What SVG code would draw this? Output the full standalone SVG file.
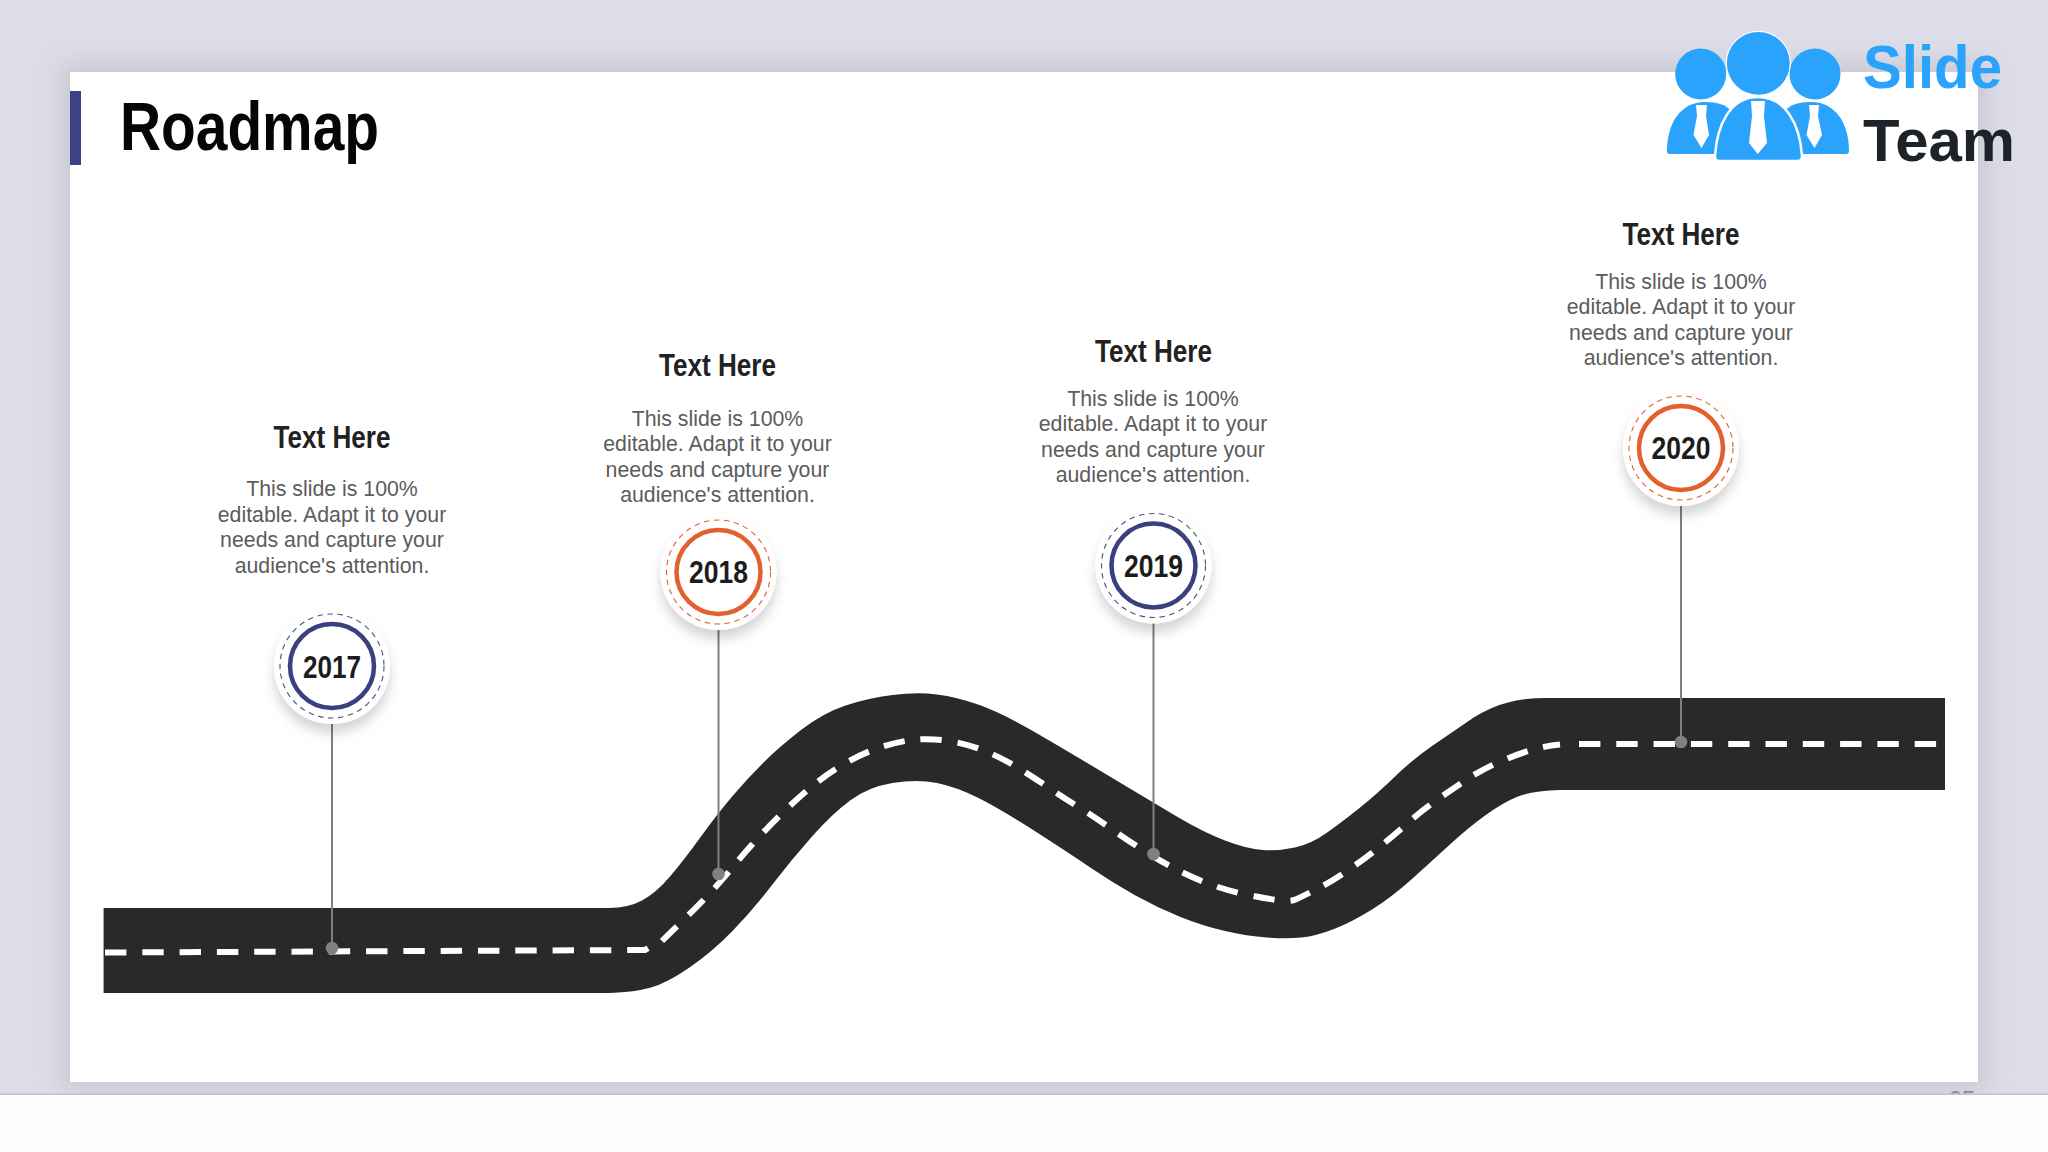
<svg xmlns="http://www.w3.org/2000/svg" width="2048" height="1152" viewBox="0 0 2048 1152">
<style>
.hd{font-family:"Liberation Sans",Arial,sans-serif;font-weight:700;fill:#222222;font-size:31px;text-anchor:middle}
.bd{font-family:"Liberation Sans",Arial,sans-serif;fill:#5c5c5c;font-size:21.3px;text-anchor:middle}
.yr{font-family:"Liberation Sans",Arial,sans-serif;font-weight:700;fill:#1c1c1c;font-size:31px;text-anchor:middle}
.plate{fill:#fff;filter:url(#sh)}
.navy .ring{stroke:#39407f}.navy .dash{stroke:#4a5080}
.orange .ring{stroke:#e2602e}.orange .dash{stroke:#e2602e}
.ring{fill:#fff;stroke-width:4.5}
.dash{fill:none;stroke-width:1.1;stroke-dasharray:5.5 4.5}
.pin{stroke:#7f7f7f;stroke-width:2;fill:none}
.dot{fill:#808080}
.lane{fill:none;stroke:#fff;stroke-width:6;stroke-dasharray:21.4 15.9}
.logo{fill:#29a3fb}
.tie{fill:#fff}
</style>
<defs>
<filter id="sh" x="-40%" y="-40%" width="180%" height="190%"><feDropShadow dx="0" dy="9" stdDeviation="6" flood-color="#000" flood-opacity="0.17"/></filter>
<filter id="ss" x="-5%" y="-8%" width="110%" height="116%"><feGaussianBlur stdDeviation="12"/></filter>
</defs>
<rect width="2048" height="1152" fill="#dcdde8"/>
<g id="slide">
<rect x="62" y="64" width="1924" height="1026" fill="#b4b5bd" opacity="0.55" filter="url(#ss)"/>
<text x="1962" y="1108" font-family="Liberation Sans, Arial, sans-serif" font-size="24" fill="#8a8a8a" text-anchor="middle">05</text>
<rect x="0" y="1094" width="2048" height="58" fill="#fdfefe"/>
<rect x="0" y="1093.5" width="2048" height="1.5" fill="#c0c2d2"/>
<rect x="70" y="72" width="1908" height="1010" fill="#fff"/>
<rect x="70" y="91" width="11" height="74" fill="#3c4283"/>
<text x="120" y="150" font-family="Liberation Sans, Arial, sans-serif" font-weight="700" font-size="68" fill="#050505" textLength="259" lengthAdjust="spacingAndGlyphs">Roadmap</text>
</g>
<g id="road">
<path fill="#29282b" d="M103.6 908 L609 908 Q628 908 642 900.5 T670 876.5 T701 836.5 T733 795.5 T763.5 762.5 T801 730 T845.5 705.5 T892.5 695 T937 694.5 T979.5 705 T1035.5 732.5 T1111.5 777.5 T1178.5 817.5 T1225 840.5 T1263 850 T1295 847.5 T1326.5 833 T1359.5 808 T1395 776.5 T1433.5 745 T1471.5 719 L1472 718.5 Q1492 706 1510 702 Q1525 698 1548 698 L1945 698 L1945 790 L1560 790 Q1532 791 1518 796.5 T1486.5 814.5 T1451 843.5 T1412.5 878.5 T1372 909.5 T1334 929 T1301.5 937.5 T1267 937.5 T1225 931 T1180.5 917 T1135.5 895.5 T1091 868 T1035.5 831.5 T979.5 798.5 T937 783 T892.5 783 T850 800.5 T812 836.5 T772 885 T732 931.5 T689.5 967.5 T651 987.5 T610 993 L103.6 993 Z"/>
<path class="lane" d="M105 952.5 L645 950 L649 947.5"/>
<path class="lane" d="M662 941 Q670 933 683.5 920 T710 893 T734.5 865 T759 837 T785.5 810 T813 785.5 T843 764.5 T877 748.5 T912.5 740 T949 741 T985 751 T1017.5 767.5 T1048.5 787.5 T1080 808 T1111.5 829 T1144.5 851 T1176.5 869.5 T1208 883.5 T1244 894 T1276.5 900 T1295.5 899.5 T1316 889.5 T1347 871 T1377.5 848.5 T1406 824.5 T1435.5 801 T1466 780 T1498 762.5 T1530 750.5 T1560 744.5"/>
<path class="lane" d="M1579 744 L1938 744"/>
</g>
<g id="connectors">
<path class="pin" d="M332 724V948"/><circle class="dot" cx="332" cy="948" r="6.3"/>
<path class="pin" d="M718.5 630V874"/><circle class="dot" cx="718.5" cy="874" r="6.3"/>
<path class="pin" d="M1153.5 623V854"/><circle class="dot" cx="1153.5" cy="854" r="6.3"/>
<path class="pin" d="M1681 506V742"/><circle class="dot" cx="1681" cy="742" r="6.3"/>
</g>
<g id="node-2017" class="navy">
<circle class="plate" cx="332" cy="666" r="58"/><circle class="dash" cx="332" cy="666" r="52"/><circle class="ring" cx="332" cy="666" r="42"/>
<text class="yr" x="332" y="677.5" textLength="58" lengthAdjust="spacingAndGlyphs">2017</text>
<text class="hd" x="332" y="448" textLength="117" lengthAdjust="spacingAndGlyphs">Text Here</text>
<text class="bd" x="332" y="496">This slide is 100%</text><text class="bd" x="332" y="521.6">editable. Adapt it to your</text><text class="bd" x="332" y="547.2">needs and capture your</text><text class="bd" x="332" y="572.8">audience's attention.</text>
</g>
<g id="node-2018" class="orange">
<circle class="plate" cx="718.5" cy="572" r="58"/><circle class="dash" cx="718.5" cy="572" r="52"/><circle class="ring" cx="718.5" cy="572" r="42"/>
<text class="yr" x="718.5" y="583" textLength="59" lengthAdjust="spacingAndGlyphs">2018</text>
<text class="hd" x="717.5" y="376" textLength="117" lengthAdjust="spacingAndGlyphs">Text Here</text>
<text class="bd" x="717.5" y="425.5">This slide is 100%</text><text class="bd" x="717.5" y="451.1">editable. Adapt it to your</text><text class="bd" x="717.5" y="476.7">needs and capture your</text><text class="bd" x="717.5" y="502.3">audience's attention.</text>
</g>
<g id="node-2019" class="navy">
<circle class="plate" cx="1153.5" cy="565.5" r="58"/><circle class="dash" cx="1153.5" cy="565.5" r="52"/><circle class="ring" cx="1153.5" cy="565.5" r="42"/>
<text class="yr" x="1153.5" y="576.5" textLength="59" lengthAdjust="spacingAndGlyphs">2019</text>
<text class="hd" x="1153.5" y="361.5" textLength="117" lengthAdjust="spacingAndGlyphs">Text Here</text>
<text class="bd" x="1153" y="405.5">This slide is 100%</text><text class="bd" x="1153" y="431.1">editable. Adapt it to your</text><text class="bd" x="1153" y="456.7">needs and capture your</text><text class="bd" x="1153" y="482.3">audience's attention.</text>
</g>
<g id="node-2020" class="orange">
<circle class="plate" cx="1681" cy="448" r="58"/><circle class="dash" cx="1681" cy="448" r="52"/><circle class="ring" cx="1681" cy="448" r="42"/>
<text class="yr" x="1681" y="458.5" textLength="59" lengthAdjust="spacingAndGlyphs">2020</text>
<text class="hd" x="1681" y="244.5" textLength="117" lengthAdjust="spacingAndGlyphs">Text Here</text>
<text class="bd" x="1681" y="288.5">This slide is 100%</text><text class="bd" x="1681" y="314.1">editable. Adapt it to your</text><text class="bd" x="1681" y="339.7">needs and capture your</text><text class="bd" x="1681" y="365.3">audience's attention.</text>
</g>
<g id="logo">
<circle class="logo" cx="1700.7" cy="74" r="25.5"/><circle class="logo" cx="1815" cy="74" r="25.5"/>
<path class="logo" d="M1667 151 C1667 124 1680 102 1705 102 C1718 102 1726 105 1730 110 L1730 154 L1670 154 Q1667 154 1667 151Z"/>
<path class="logo" d="M1849 151 C1849 124 1836 102 1811 102 C1798 102 1790 105 1786 110 L1786 154 L1846 154 Q1849 154 1849 151Z"/>
<polygon class="tie" points="1696,105 1707,105 1706,116 1709,135 1701.5,148 1693.5,135 1697,116"/>
<polygon class="tie" points="1809,105 1819,105 1818,116 1822,135 1814.5,148 1806.5,135 1810,116"/>
<circle class="logo" cx="1758.3" cy="63.3" r="32" stroke="#fff" stroke-width="1.2"/>
<path class="logo" stroke="#fff" stroke-width="2.5" d="M1719 161 Q1715 161 1715 156 C1717 125 1730 97 1758 97 C1786 97 1800 125 1802 156 Q1802 161 1798 161Z"/>
<polygon class="tie" points="1751,101 1765,101 1764,116 1767,143 1757.7,154 1749,143 1752,116"/>
<text x="1863" y="88" font-family="Liberation Sans, Arial, sans-serif" font-weight="700" font-size="62" fill="#29a3fb" textLength="139" lengthAdjust="spacingAndGlyphs">Slide</text>
<text x="1863" y="161" font-family="Liberation Sans, Arial, sans-serif" font-weight="700" font-size="60" fill="#1d2329" textLength="152" lengthAdjust="spacingAndGlyphs">Team</text>
</g>
</svg>
